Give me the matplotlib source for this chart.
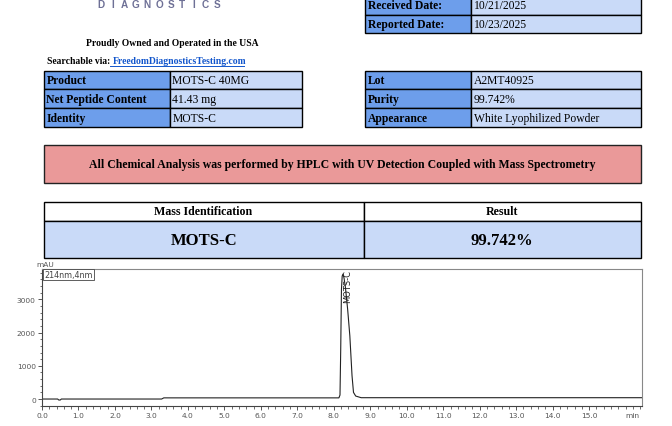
import matplotlib.pyplot as plt
from matplotlib.patches import Rectangle
from matplotlib.ticker import MultipleLocator

# Data
dates_labels = ["Received Date:", "Reported Date:"]
dates_values = ["10/21/2025", "10/23/2025"]
product_labels = ["Product", "Net Peptide Content", "Identity"]
product_values = ["MOTS-C 40MG", "41.43 mg", "MOTS-C"]
lot_labels = ["Lot", "Purity", "Appearance"]
lot_values = ["A2MT40925", "99.742%", "White Lyophilized Powder"]
banner_text = "All Chemical Analysis was performed by HPLC with UV Detection Coupled with Mass Spectrometry"
result_header = ["Mass Identification", "Result"]
result_row = ["MOTS-C", "99.742%"]

# chromatogram trace (min, mAU)
time_min = [0.0, 0.43, 0.46, 0.50, 0.53, 3.28, 3.34, 8.14, 8.17, 8.19, 8.21,
            8.23, 8.25, 8.28, 8.32, 8.38, 8.44, 8.50, 8.54, 8.60, 8.75, 16.45]
signal_mau = [0, 0, -30, -30, 0, 0, 35, 35, 120, 1500, 3300,
              3700, 3760, 3650, 3350, 2700, 1900, 700, 200, 90, 40, 40]
peak_name = "MOTS-C"
peak_time = 8.38

fig = plt.figure(figsize=(6.72, 4.27), dpi=100)
bg = fig.add_axes([0, 0, 1, 1])
bg.set_xlim(0, 672)
bg.set_ylim(427, 0)
bg.axis('off')

serif = 'Liberation Serif'
dark_blue = '#6d9eeb'
light_blue = '#c9daf8'


def table(x0, xs, x1, ytops, labels, values, size=8.4):
    for i, (lab, val) in enumerate(zip(labels, values)):
        y0, y1 = ytops[i], ytops[i + 1]
        bg.add_patch(Rectangle((x0, y0), xs - x0, y1 - y0, fc=dark_blue, ec='black', lw=1.0))
        bg.add_patch(Rectangle((xs, y0), x1 - xs, y1 - y0, fc=light_blue, ec='black', lw=1.0))
        ym = (y0 + y1) / 2
        bg.text(x0 + 3, ym, lab, family=serif, weight='bold', fontsize=size, va='center', ha='left')
        bg.text(xs + 3, ym, val, family=serif, fontsize=size, va='center', ha='left')


# header text
for i, ch in enumerate("DIAGNOSTICS"):
    bg.text(101 + i * 11.6, 4.5, ch, family='Liberation Sans', weight='bold', fontsize=7.2,
            color='#6e7096', ha='center', va='center')
bg.text(172, 43, "Proudly Owned and Operated in the USA", family=serif, weight='bold',
        fontsize=6.95, ha='center', va='center')
bg.text(47, 62, "Searchable via:", family=serif, weight='bold', fontsize=6.95, va='center')
bg.text(113, 62, "FreedomDiagnosticsTesting.com", family=serif, weight='bold', fontsize=6.95,
        va='center', color='#1155cc')
bg.plot([110, 244], [66.5, 66.5], color='#1155cc', lw=0.7)

table(365, 470.5, 641, [-3, 15.7, 34.3], dates_labels, dates_values)
table(43.5, 169.5, 301.5, [71.5, 90.3, 109.3, 128.3], product_labels, product_values)
table(365, 470.5, 641, [71.5, 90.3, 109.3, 128.3], lot_labels, lot_values)

# banner
bg.add_patch(Rectangle((43.5, 145.5), 597.5, 38, fc='#ea9999', ec='#222222', lw=1.0))
bg.text(342, 165.5, banner_text, family=serif, weight='bold', fontsize=8.5, ha='center', va='center')

# result table
bg.add_patch(Rectangle((43.5, 203), 320, 18.5, fc='white', ec='black', lw=1.0))
bg.add_patch(Rectangle((363.5, 203), 277.5, 18.5, fc='white', ec='black', lw=1.0))
bg.add_patch(Rectangle((43.5, 221.5), 320, 37.5, fc=light_blue, ec='black', lw=1.0))
bg.add_patch(Rectangle((363.5, 221.5), 277.5, 37.5, fc=light_blue, ec='black', lw=1.0))
bg.text(203, 212.5, result_header[0], family=serif, weight='bold', fontsize=8.6, ha='center', va='center')
bg.text(502, 212.5, result_header[1], family=serif, weight='bold', fontsize=8.6, ha='center', va='center')
bg.text(204, 241, result_row[0], family=serif, weight='bold', fontsize=12, ha='center', va='center')
bg.text(502, 241, result_row[1], family=serif, weight='bold', fontsize=12, ha='center', va='center')

# chromatogram
ax = fig.add_axes([42 / 672, 20 / 427, 600 / 672, 137 / 427])
ax.plot(time_min, signal_mau, color='#222222', lw=0.8)
ax.set_xlim(0, 16.45)
ax.set_ylim(-210, 3915)
ax.set_xticks(range(0, 16))
ax.set_xticklabels([f"{t:.1f}" for t in range(0, 16)])
ax.xaxis.set_minor_locator(MultipleLocator(0.2))
ax.set_yticks([0, 1000, 2000, 3000])
ax.yaxis.set_minor_locator(MultipleLocator(200))
ax.tick_params(labelsize=5.4, colors='#555555', length=3, width=0.7, pad=1.5)
ax.tick_params(which='minor', length=1.8, width=0.6, colors='#555555')
for side in ['top', 'right']:
    ax.spines[side].set_color('#888888')
for side in ['left', 'bottom']:
    ax.spines[side].set_color('#444444')
for s in ax.spines.values():
    s.set_linewidth(0.8)
ax.text(16.2, -470, "min", fontsize=5.4, color='#555555', ha='center', va='center')
ax.text(-0.15, 3990, "mAU", fontsize=5.4, color='#555555', ha='left', va='bottom')
ax.text(0.06, 3880, "214nm,4nm", fontsize=5.8, color='#444444', ha='left', va='top',
        bbox=dict(boxstyle='square,pad=0.15', fc='white', ec='#444444', lw=0.6))
ax.text(peak_time, 3900, peak_name, fontsize=6, color='#222222', rotation=90,
        ha='center', va='top')

fig.savefig('out.png', dpi=100)
